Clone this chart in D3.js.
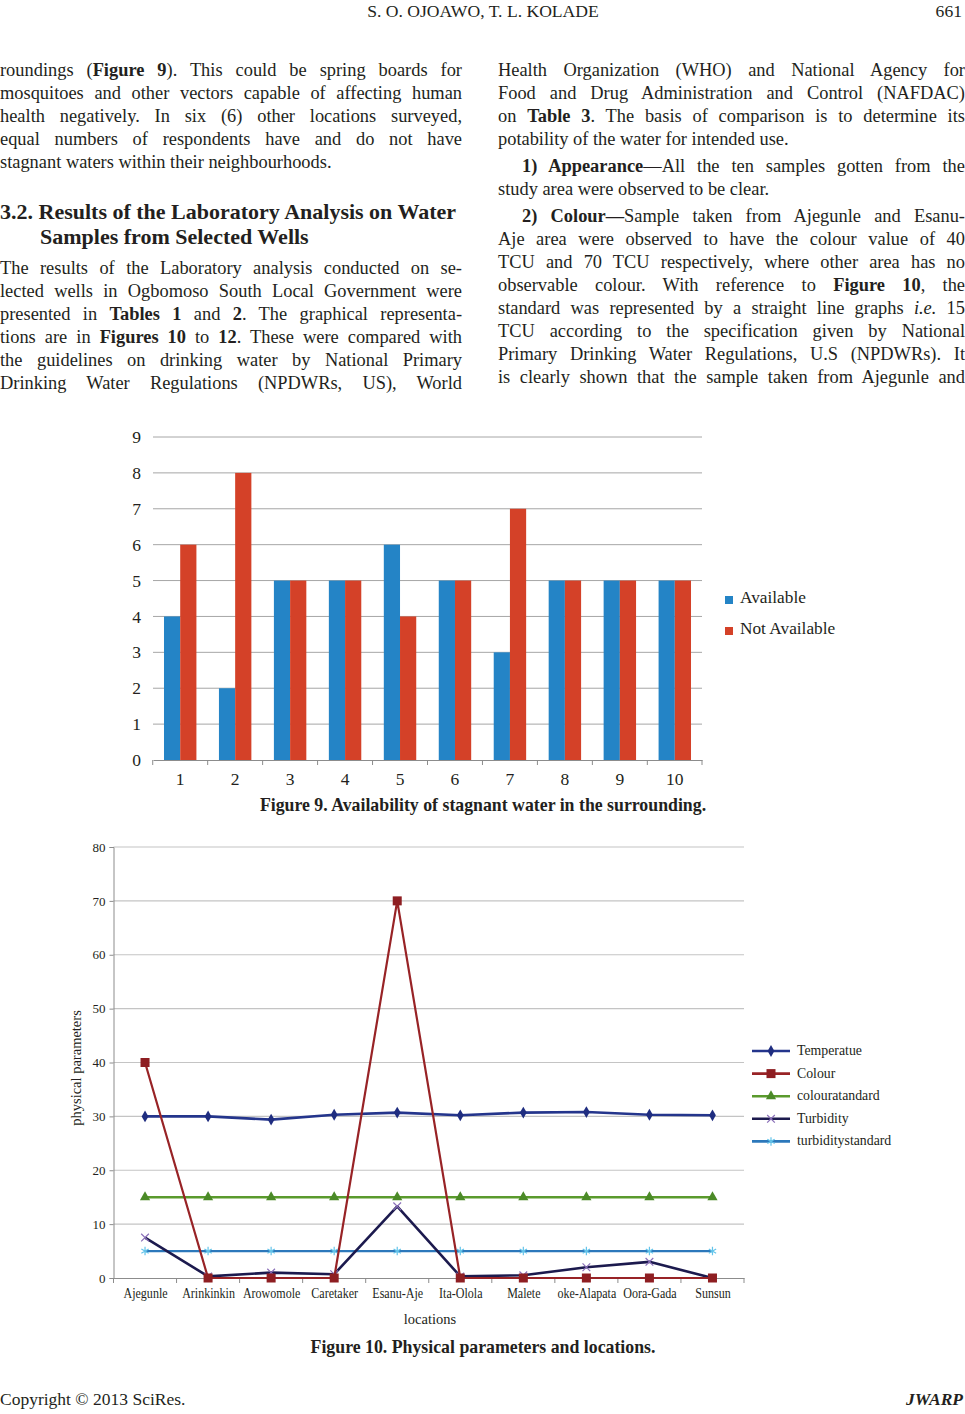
<!DOCTYPE html>
<html><head><meta charset="utf-8">
<script src="https://cdn.jsdelivr.net/npm/d3@7/dist/d3.min.js"></script>
<style>
html,body{margin:0;padding:0;background:#fff;}
svg{display:block;}
text{font-family:"Liberation Serif","Times New Roman",serif;fill:#231f20;}
</style></head>
<body>
<svg id="page" width="965" height="1414"></svg>
<script>
// ---------- page text ----------
const headerText = "S. O. OJOAWO, T. L. KOLADE";
const pageNumber = "661";
const leftColumnLines = [
  "roundings (**Figure 9**). This could be spring boards for",
  "mosquitoes and other vectors capable of affecting human",
  "health negatively. In six (6) other locations surveyed,",
  "equal numbers of respondents have and do not have",
  "stagnant waters within their neighbourhoods.|"
];
const headingLines = ["3.2. Results of the Laboratory Analysis on Water", "Samples from Selected Wells"];
const leftColumnLines2 = [
  "The results of the Laboratory analysis conducted on se-",
  "lected wells in Ogbomoso South Local Government were",
  "presented in **Tables 1** and **2**. The graphical representa-",
  "tions are in **Figures 10** to **12**. These were compared with",
  "the guidelines on drinking water by National Primary",
  "Drinking Water Regulations (NPDWRs, US), World"
];
const rightColumnLines = [
  "Health Organization (WHO) and National Agency for",
  "Food and Drug Administration and Control (NAFDAC)",
  "on **Table 3**. The basis of comparison is to determine its",
  "potability of the water for intended use.|"
];
const rightColumnLines2 = [
  ">**1) Appearance**—All the ten samples gotten from the",
  "study area were observed to be clear.|"
];
const rightColumnLines3 = [
  ">**2) Colour—**Sample taken from Ajegunle and Esanu-",
  "Aje area were observed to have the colour value of 40",
  "TCU and 70 TCU respectively, where other area has no",
  "observable colour. With reference to **Figure 10**, the",
  "standard was represented by a straight line graphs __i.e.__ 15",
  "TCU according to the specification given by National",
  "Primary Drinking Water Regulations, U.S (NPDWRs). It",
  "is clearly shown that the sample taken from Ajegunle and"
];
const fig9Caption = "Figure 9. Availability of stagnant water in the surrounding.";
const fig10Caption = "Figure 10. Physical parameters and locations.";
const footerLeft = "Copyright © 2013 SciRes.";
const footerRight = "JWARP";

// ---------- Figure 9 data ----------
const fig9Categories = ["1","2","3","4","5","6","7","8","9","10"];
const fig9Series = ["Available", "Not Available"];
const availableValues = [4, 2, 5, 5, 6, 5, 3, 5, 5, 5];
const notAvailableValues = [6, 8, 5, 5, 4, 5, 7, 5, 5, 5];
const fig9Ticks = [0,1,2,3,4,5,6,7,8,9];

// ---------- Figure 10 data ----------
const locations = ["Ajegunle","Arinkinkin","Arowomole","Caretaker","Esanu-Aje","Ita-Olola","Malete","oke-Alapata","Oora-Gada","Sunsun"];
const fig10SeriesNames = ["Temperatue","Colour","colouratandard","Turbidity","turbiditystandard"];
const temperature = [30.0, 30.0, 29.4, 30.3, 30.7, 30.2, 30.7, 30.8, 30.3, 30.2];
const colour = [40, 0, 0, 0, 70, 0, 0, 0, 0, 0];
const colourStandard = [15, 15, 15, 15, 15, 15, 15, 15, 15, 15];
const turbidity = [7.5, 0.3, 1.0, 0.7, 13.3, 0.3, 0.5, 2.0, 3.0, 0.0];
const turbidityStandard = [5, 5, 5, 5, 5, 5, 5, 5, 5, 5];
const fig10Ticks = [0,10,20,30,40,50,60,70,80];

const svg = d3.select("#page");
const FS = 18.4;

// ---------- text helpers ----------
function parseLine(str){
  const segs = [];
  const re = /(\*\*[^*]+\*\*|__[^_]+__)/g;
  let last = 0, m;
  while((m = re.exec(str))){
    if(m.index > last) segs.push({t: str.slice(last, m.index)});
    const s = m[0];
    if(s.startsWith("**")) segs.push({t: s.slice(2,-2), b:true});
    else segs.push({t: s.slice(2,-2), i:true});
    last = m.index + s.length;
  }
  if(last < str.length) segs.push({t: str.slice(last)});
  return segs;
}
function drawLines(lines, x0, x1, y0, lh, size, indent){
  lines.forEach((raw, k) => {
    let s = raw, justify = true, ind = 0;
    if(s.endsWith("|")){ s = s.slice(0,-1); justify = false; }
    if(s.startsWith(">")){ s = s.slice(1); ind = indent; }
    const t = svg.append("text").attr("x", x0 + ind).attr("y", y0 + k*lh)
      .attr("font-size", size);
    parseLine(s).forEach(seg => {
      const ts = t.append("tspan").text(seg.t);
      if(seg.b) ts.attr("font-weight","bold");
      if(seg.i) ts.attr("font-style","italic");
    });
    if(justify){
      const w = t.node().getComputedTextLength();
      const spaces = (s.match(/ /g)||[]).length;
      const target = x1 - x0 - ind;
      if(spaces > 0) t.style("word-spacing", ((target - w)/spaces) + "px");
    }
  });
}

// header
svg.append("text").attr("x", 483).attr("y", 17).attr("text-anchor","middle").attr("font-size", 17.6).text(headerText);
svg.append("text").attr("x", 962).attr("y", 17).attr("text-anchor","end").attr("font-size", 17.6).text(pageNumber);

drawLines(leftColumnLines, 0, 462, 76, 23, FS, 0);
svg.append("text").attr("x",0).attr("y",219).attr("font-size",22).attr("font-weight","bold").text(headingLines[0]);
svg.append("text").attr("x",40).attr("y",244).attr("font-size",22).attr("font-weight","bold").text(headingLines[1]);
drawLines(leftColumnLines2, 0, 462, 274, 23, FS, 0);
drawLines(rightColumnLines, 498, 965, 76, 23, FS, 0);
drawLines(rightColumnLines2, 498, 965, 172, 23, FS, 24);
drawLines(rightColumnLines3, 498, 965, 222, 23, FS, 24);

// ---------- Figure 9 ----------
(function(){
  const left = 153, right = 702, top = 437, bottom = 760;
  const x = d3.scaleBand().domain(fig9Categories).range([left, right]).paddingInner(0.41).paddingOuter(0.2);
  const xs = d3.scaleBand().domain(fig9Series).range([0, x.bandwidth()]);
  const y = d3.scaleLinear().domain([0, 9]).range([bottom, top]);
  const g = svg.append("g");
  g.selectAll("line.grid").data(fig9Ticks.filter(d=>d>0)).join("line")
    .attr("x1", left).attr("x2", right).attr("y1", d=>y(d)).attr("y2", d=>y(d))
    .attr("stroke", "#a6a6a6").attr("stroke-width", 1);
  const ya = g.append("g").attr("transform", `translate(${left},0)`)
    .call(d3.axisLeft(y).tickValues(fig9Ticks).tickSize(0).tickPadding(12));
  ya.select(".domain").remove();
  ya.selectAll("text").attr("font-size", 17.5).attr("font-family","'Liberation Serif',serif").attr("fill","#231f20");
  const colors = {"Available":"#2484c6","Not Available":"#d44128"};
  const rows = fig9Categories.map((c,i)=>({c, vals:[{s:"Available", v:availableValues[i]},{s:"Not Available", v:notAvailableValues[i]}]}));
  g.selectAll("g.grp").data(rows).join("g").attr("transform", d=>`translate(${x(d.c)},0)`)
    .selectAll("rect").data(d=>d.vals).join("rect")
    .attr("x", d=>xs(d.s)).attr("width", xs.bandwidth())
    .attr("y", d=>y(d.v)).attr("height", d=>bottom - y(d.v))
    .attr("fill", d=>colors[d.s]);
  const xa = g.append("g").attr("transform", `translate(0,${bottom})`)
    .call(d3.axisBottom(x).tickSize(0).tickPadding(13));
  xa.select(".domain").attr("stroke","#8c8c8c");
  xa.selectAll("text").attr("font-size", 17.5).attr("font-family","'Liberation Serif',serif").attr("fill","#231f20");
  const bounds = fig9Categories.map(c => x(c) - x.step()*x.paddingInner()/2).concat([right]);
  g.selectAll("line.tk").data(bounds).join("line")
    .attr("x1", d=>d).attr("x2", d=>d).attr("y1", bottom).attr("y2", bottom+5)
    .attr("stroke","#8c8c8c");
  const lg = g.append("g");
  fig9Series.forEach((s,i)=>{
    lg.append("rect").attr("x", 725).attr("y", 596 + i*31).attr("width", 8).attr("height", 8).attr("fill", colors[s]);
    lg.append("text").attr("x", 740).attr("y", 603 + i*31).attr("font-size", 17.3).text(s);
  });
  svg.append("text").attr("x", 483).attr("y", 811).attr("text-anchor","middle").attr("font-size", 17.8).attr("font-weight","bold").text(fig9Caption);
})();

// ---------- Figure 10 ----------
(function(){
  const left = 113.5, right = 744, top = 847, bottom = 1278;
  const x = d3.scalePoint().domain(locations).range([left, right]).padding(0.5);
  const step = x.step();
  const y = d3.scaleLinear().domain([0, 80]).range([bottom, top]);
  const g = svg.append("g");
  g.selectAll("line.grid").data(fig10Ticks.filter(d=>d>0)).join("line")
    .attr("x1", left).attr("x2", right).attr("y1", d=>y(d)).attr("y2", d=>y(d))
    .attr("stroke", "#c4c4c4").attr("stroke-width", 1.2);
  const ya = g.append("g").attr("transform", `translate(${left},0)`)
    .call(d3.axisLeft(y).tickValues(fig10Ticks).tickSize(4).tickPadding(4));
  ya.select(".domain").attr("stroke","#8c8c8c");
  ya.selectAll(".tick line").attr("stroke","#8c8c8c");
  ya.selectAll("text").attr("font-size", 13).attr("font-family","'Liberation Serif',serif").attr("fill","#231f20");
  const xa = g.append("g").attr("transform", `translate(0,${bottom})`)
    .call(d3.axisBottom(x).tickSize(0).tickPadding(10));
  xa.select(".domain").attr("stroke","#8c8c8c");
  xa.selectAll("text").attr("font-size", 14).attr("transform","scale(0.86,1)")
    .attr("font-family","'Liberation Serif',serif").attr("fill","#231f20");
  const bounds = d3.range(locations.length+1).map(i => left + i*step);
  g.selectAll("line.tk").data(bounds).join("line")
    .attr("x1", d=>d).attr("x2", d=>d).attr("y1", bottom).attr("y2", bottom+5).attr("stroke","#8c8c8c");
  svg.append("text").attr("transform", `translate(81,${1068}) rotate(-90)`)
    .attr("text-anchor","middle").attr("font-size", 14.5).text("physical parameters");
  svg.append("text").attr("x", 430).attr("y", 1324).attr("text-anchor","middle").attr("font-size", 14.5).text("locations");

  const series = [
    {name: fig10SeriesNames[0], vals: temperature, line:"#24358c", mark:"#1f2d80", sym:"diamond", w:2.6},
    {name: fig10SeriesNames[1], vals: colour, line:"#982326", mark:"#8e1e22", sym:"square", w:2.2},
    {name: fig10SeriesNames[2], vals: colourStandard, line:"#5a9a2c", mark:"#4b8a27", sym:"triangle", w:2.6},
    {name: fig10SeriesNames[3], vals: turbidity, line:"#1c1a4e", mark:"#8a6fb8", sym:"x", w:2.6},
    {name: fig10SeriesNames[4], vals: turbidityStandard, line:"#2c78bb", mark:"#64c4ea", sym:"star", w:2.2}
  ];
  const lineGen = d3.line().x((d,i)=>x(locations[i])).y(d=>y(d));
  function drawMarker(sel, s, cx, cy){
    if(s.sym === "diamond"){
      sel.append("path").attr("d", d3.symbol(d3.symbolDiamond, 40)()).attr("transform", `translate(${cx},${cy})`).attr("fill", s.mark);
    } else if(s.sym === "square"){
      sel.append("rect").attr("x", cx-4.5).attr("y", cy-4.5).attr("width", 9).attr("height", 9).attr("fill", s.mark);
    } else if(s.sym === "triangle"){
      sel.append("path").attr("d", d3.symbol(d3.symbolTriangle, 45)()).attr("transform", `translate(${cx},${cy})`).attr("fill", s.mark);
    } else if(s.sym === "x"){
      sel.append("path").attr("d", d3.symbol(d3.symbolX, 40)()).attr("transform", `translate(${cx},${cy})`).attr("fill","none").attr("stroke", s.mark).attr("stroke-width",1.2);
    } else {
      sel.append("path").attr("d", d3.symbol(d3.symbolAsterisk, 50)()).attr("transform", `translate(${cx},${cy})`).attr("fill","none").attr("stroke", s.mark).attr("stroke-width",1.2);
    }
  }
  const order = [4,2,0,3,1];
  order.forEach(k=>{
    const s = series[k];
    const sg = g.append("g");
    sg.append("path").attr("d", lineGen(s.vals)).attr("fill","none").attr("stroke", s.line).attr("stroke-width", s.w).attr("stroke-linejoin","round");
    s.vals.forEach((v,i)=> drawMarker(sg, s, x(locations[i]), y(v)));
  });
  series.forEach((s,i)=>{
    const ly = 1051 + i*22.6;
    const lg = g.append("g");
    lg.append("line").attr("x1", 752).attr("x2", 790).attr("y1", ly).attr("y2", ly).attr("stroke", s.line).attr("stroke-width", 2.6);
    drawMarker(lg, s, 771, ly);
    lg.append("text").attr("x", 797).attr("y", ly+4).attr("font-size", 13.8).text(s.name);
  });
  svg.append("text").attr("x", 483).attr("y", 1353).attr("text-anchor","middle").attr("font-size", 17.8).attr("font-weight","bold").text(fig10Caption);
})();

// footer
svg.append("text").attr("x", 0).attr("y", 1405).attr("font-size", 17.5).text(footerLeft);
svg.append("text").attr("x", 963).attr("y", 1405).attr("text-anchor","end").attr("font-size", 17.5).attr("font-weight","bold").attr("font-style","italic").text(footerRight);
</script>
</body></html>
